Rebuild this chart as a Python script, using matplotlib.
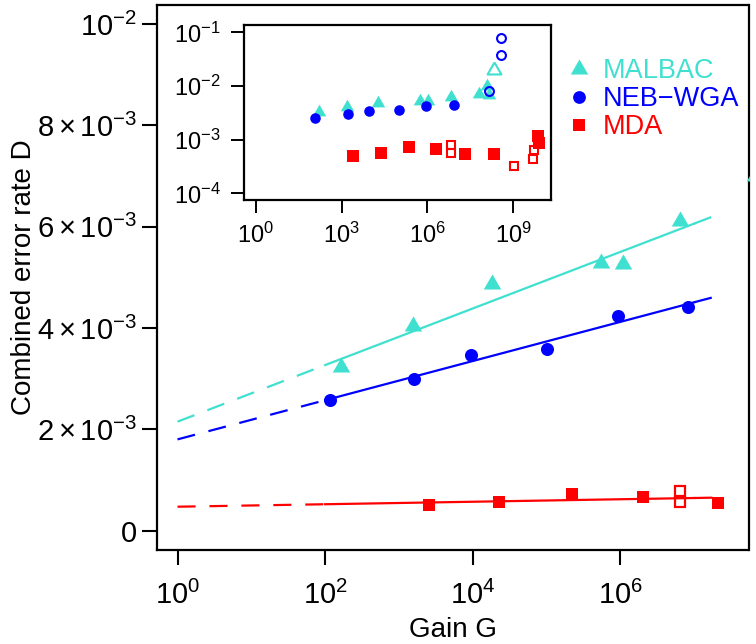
import numpy as np
import matplotlib
matplotlib.use('Agg')
import matplotlib.pyplot as plt
from matplotlib.lines import Line2D

plt.rcParams['font.family'] = ['Liberation Sans', 'DejaVu Sans']
plt.rcParams['mathtext.fontset'] = 'custom'
plt.rcParams['mathtext.rm'] = 'Liberation Sans'
plt.rcParams['mathtext.it'] = 'Liberation Sans:italic'
plt.rcParams['mathtext.bf'] = 'Liberation Sans:bold'
plt.rcParams['lines.scale_dashes'] = False

# ---------------- data ----------------
malbac_G = [162, 1550, 1.82e4, 5.37e5, 1.07e6, 6.46e6, 6.6e7, 1.26e8, 1.48e8]
malbac_D = [3.23e-3, 4.03e-3, 4.87e-3, 5.28e-3, 5.27e-3, 6.12e-3, 7.0e-3, 10.0e-3, 6.8e-3]
malbac_open_G = [2.19e8]
malbac_open_D = [0.020]

neb_G = [117, 1620, 9330, 1.0e5, 9.12e5, 8.32e6]
neb_D = [2.57e-3, 2.99e-3, 3.46e-3, 3.58e-3, 4.23e-3, 4.42e-3]
neb_open_G = [1.48e8, 3.8e8, 3.8e8]
neb_open_D = [8.2e-3, 0.0378, 0.0773]

mda_G = [2570, 2.29e4, 2.19e5, 2.0e6, 2.09e7, 2.19e8, 7.6e9, 8.3e9]
mda_D = [0.50e-3, 0.56e-3, 0.72e-3, 0.67e-3, 0.55e-3, 0.54e-3, 1.17e-3, 0.88e-3]
mda_open_G = [6.46e6, 6.46e6, 1.1e9, 4.9e9, 5.4e9]
mda_open_D = [0.78e-3, 0.57e-3, 3.29e-4, 4.31e-4, 6.44e-4]

# linear fits D vs log10(G): values at G = 1, 1e2, 1e7, 2e7
fit_G = [1, 1e2, 1e7, 2e7]
malbac_fit = [2.15e-3, 3.268e-3, 6.063e-3, 6.231e-3]
neb_fit = [1.80e-3, 2.574e-3, 4.509e-3, 4.625e-3]
mda_fit = [0.47e-3, 0.519e-3, 0.642e-3, 0.650e-3]

series_names = ['MALBAC', 'NEB\u2212WGA', 'MDA']
colors = ['#40E0D0', '#0000FF', '#FF0000']

yticks = [0, 2e-3, 4e-3, 6e-3, 8e-3, 1e-2]
ytick_labels = ['0', r'$2\times10^{-3}$', r'$4\times10^{-3}$', r'$6\times10^{-3}$',
                r'$8\times10^{-3}$', r'$10^{-2}$']
xticks = [1, 1e2, 1e4, 1e6]
xtick_labels = [r'$10^{0}$', r'$10^{2}$', r'$10^{4}$', r'$10^{6}$']
in_xticks = [1, 1e3, 1e6, 1e9]
in_xtick_labels = [r'$10^{0}$', r'$10^{3}$', r'$10^{6}$', r'$10^{9}$']
in_yticks = [1e-4, 1e-3, 1e-2, 1e-1]
in_ytick_labels = [r'$10^{-4}$', r'$10^{-3}$', r'$10^{-2}$', r'$10^{-1}$']

# equilateral triangle marker (closed)
tri = [(0, 1.155), (-1, -0.577), (1, -0.577), (0, 1.155)]

W, H = 756, 644
fig = plt.figure(figsize=(W / 100, H / 100), dpi=100)

# ---------------- main axes ----------------
L, R, T, B = 157, 748.5, 4.5, 550
ax = fig.add_axes([L / W, 1 - B / H, (R - L) / W, (B - T) / H])
ax.set_xscale('log')
ax.set_xlim(10 ** -0.278, 10 ** 7.734)
ax.set_ylim(-0.385e-3, 10.39e-3)

dash = (0, (13, 10))
for fit, c in zip([malbac_fit, neb_fit, mda_fit], colors):
    ax.plot(fit_G[0:2], fit[0:2], color=c, lw=1.6, linestyle=dash, zorder=2)
    ax.plot(fit_G[1:3], fit[1:3], color=c, lw=1.6, zorder=2)
    ax.plot(fit_G[2:4], fit[2:4], color=c, lw=1.6, linestyle=dash, zorder=2)

ax.plot(malbac_G, malbac_D, linestyle='none', marker=tri, ms=14.5, color=colors[0], mew=0, zorder=3)
ax.plot(neb_G, neb_D, linestyle='none', marker='o', ms=9.4, color=colors[1], mew=0, zorder=3)
ax.plot(mda_G, mda_D, linestyle='none', marker='s', ms=9.2, color=colors[2], mew=0, zorder=3)
ax.plot(mda_open_G, mda_open_D, linestyle='none', marker='s', ms=7.8, mfc='none',
        mec=colors[2], mew=1.6, zorder=3)
ax.plot(malbac_open_G, malbac_open_D, linestyle='none', marker=tri, ms=12, mfc='none',
        mec=colors[0], mew=1.5, zorder=3)
ax.plot(neb_open_G, neb_open_D, linestyle='none', marker='o', ms=7.5, mfc='none',
        mec=colors[1], mew=1.5, zorder=3)

ax.set_xticks(xticks)
ax.set_xticklabels(xtick_labels)
ax.xaxis.set_minor_locator(matplotlib.ticker.NullLocator())
ax.set_yticks(yticks)
ax.set_yticklabels(ytick_labels)
ax.tick_params(axis='both', direction='out', length=11, width=1.5, labelsize=21)
ax.tick_params(axis='x', pad=11)
ax.tick_params(axis='y', pad=3.5)
for s in ax.spines.values():
    s.set_linewidth(1.6)

fig.text(453 / W, 1 - 630 / H, 'Gain G', ha='center', va='center', fontsize=20)
fig.text(24 / W, 1 - 277 / H, 'Combined error rate D', ha='center', va='center',
         rotation=90, fontsize=20)

# legend
handles = [Line2D([], [], linestyle='none', marker=tri, ms=14.5, color=colors[0], mew=0),
           Line2D([], [], linestyle='none', marker='o', ms=9.2, color=colors[1], mew=0),
           Line2D([], [], linestyle='none', marker='s', ms=9.0, color=colors[2], mew=0)]
leg = fig.legend(handles, series_names, loc='upper left',
                 bbox_to_anchor=(565 / W, 1 - 58 / H), frameon=False, fontsize=19.5,
                 handlelength=1.0, handletextpad=0.4, labelspacing=0.08,
                 borderpad=0, borderaxespad=0, labelcolor=colors)

# ---------------- inset ----------------
iL, iR, iT, iB = 243.5, 550.7, 25, 200
axi = fig.add_axes([iL / W, 1 - iB / H, (iR - iL) / W, (iB - iT) / H], zorder=5)
axi.set_facecolor('white')
axi.set_xscale('log')
axi.set_yscale('log')
axi.set_xlim(10 ** -0.4375, 10 ** 10.315)
axi.set_ylim(10 ** -4.123, 10 ** -0.864)

axi.plot(malbac_G, malbac_D, linestyle='none', marker=tri, ms=11.2, color=colors[0], mew=0, zorder=3)
axi.plot(malbac_open_G, malbac_open_D, linestyle='none', marker=tri, ms=11.5, mfc='none',
         mec=colors[0], mew=1.5, zorder=3)
axi.plot(neb_G, neb_D, linestyle='none', marker='o', ms=7.6, color=colors[1], mew=0, zorder=3)
axi.plot(neb_open_G, neb_open_D, linestyle='none', marker='o', ms=6.4, mfc='none',
         mec=colors[1], mew=1.5, zorder=4)
axi.plot(mda_G, mda_D, linestyle='none', marker='s', ms=8.4, color=colors[2], mew=0, zorder=3)
axi.plot(mda_open_G, mda_open_D, linestyle='none', marker='s', ms=5.8, mfc='none',
         mec=colors[2], mew=1.5, zorder=3)

axi.set_xticks(in_xticks)
axi.set_xticklabels(in_xtick_labels)
axi.set_yticks(in_yticks)
axi.set_yticklabels(in_ytick_labels)
axi.xaxis.set_minor_locator(matplotlib.ticker.NullLocator())
axi.yaxis.set_minor_locator(matplotlib.ticker.NullLocator())
axi.tick_params(axis='both', direction='out', length=9.5, width=1.4, labelsize=17)
axi.tick_params(axis='x', pad=7)
axi.tick_params(axis='y', pad=7)
for s in axi.spines.values():
    s.set_linewidth(1.6)

fig.savefig('out.png', dpi=100)
